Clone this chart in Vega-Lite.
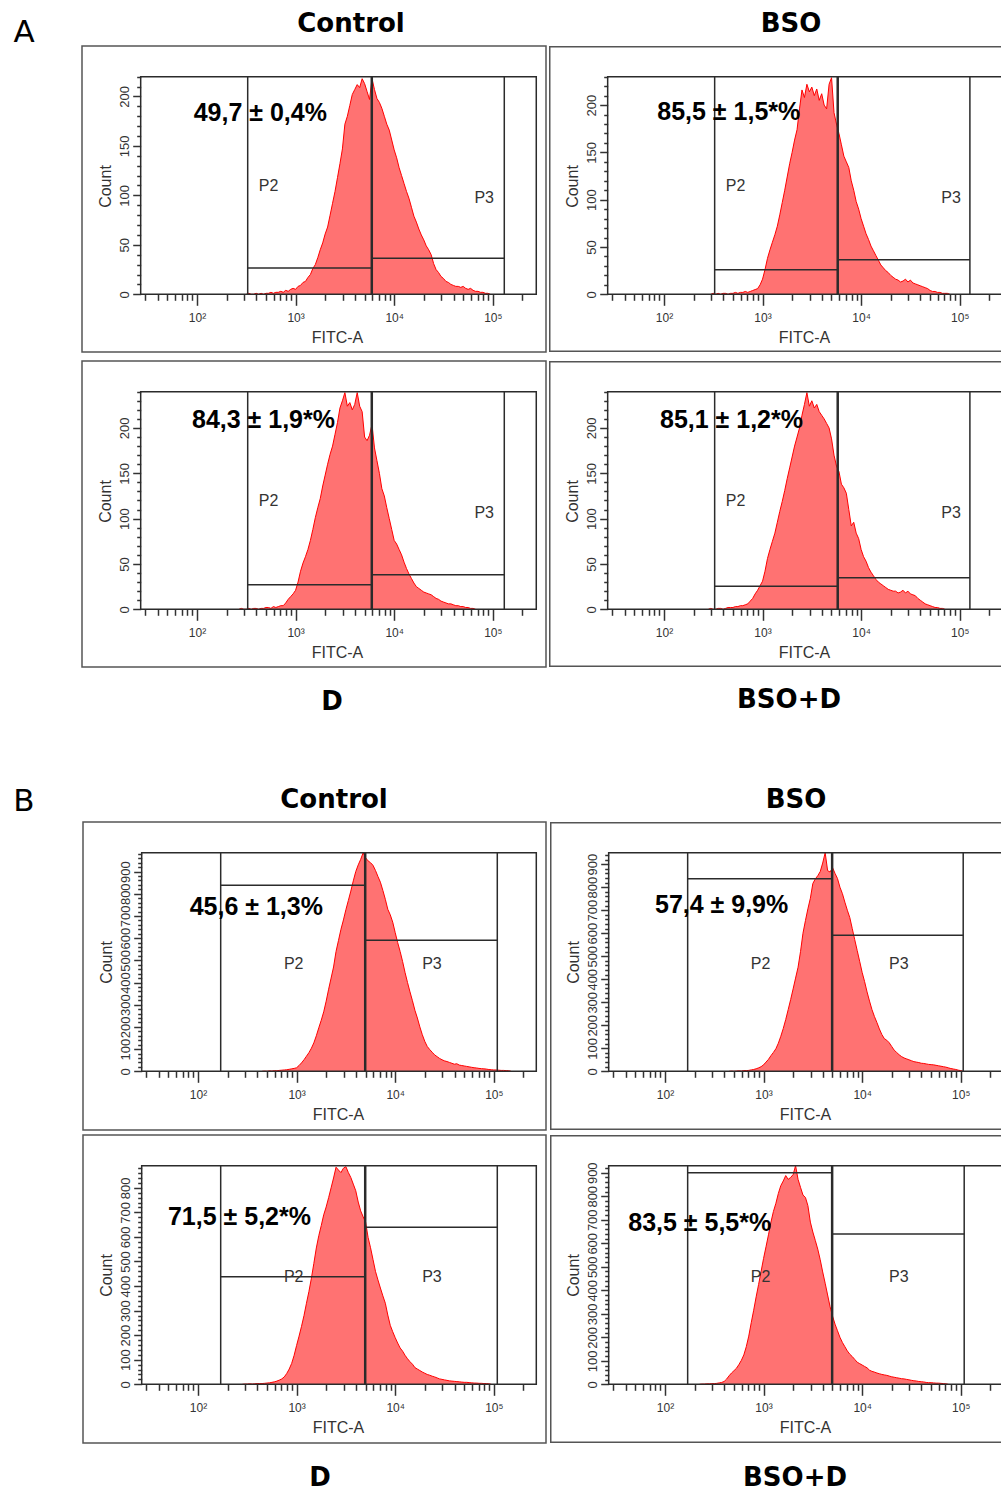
{
"$schema":"https://vega.github.io/schema/vega-lite/v6.json",
"background":"white",
"padding":{"left":0,"top":10,"right":0,"bottom":0},
"config":{
"font":"Liberation Sans",
"view":{"stroke":"#555555","strokeWidth":1.5},
"title":{"font":"DejaVu Sans","fontSize":26,"fontWeight":"bold","color":"#000000","anchor":"middle"},
"axis":{"grid":false,"domain":false,"labelColor":"#333333","tickColor":"#333333","tickWidth":1.5,"titleColor":"#333333","titleFontWeight":"normal","labelOverlap":false,"labelFlush":false,"labelFont":"Liberation Sans","titleFont":"Liberation Sans","titleFontSize":16},
"axisX":{"labelFontSize":12,"labelPadding":7,"titlePadding":6,"labelAngle":0},
"axisY":{"labelFontSize":13,"labelPadding":1,"titlePadding":5,"labelAngle":270,"labelAlign":"center","labelBaseline":"bottom"}
},
"datasets":{
"a1":[{"x":316.2,"y":0},{"x":335.0,"y":1},{"x":354.8,"y":0},{"x":375.8,"y":0},{"x":398.1,"y":1},{"x":421.7,"y":0},{"x":446.7,"y":1},{"x":473.2,"y":0},{"x":501.2,"y":1},{"x":530.9,"y":1},{"x":562.3,"y":2},{"x":595.7,"y":1},{"x":631.0,"y":2},{"x":668.3,"y":2},{"x":707.9,"y":3},{"x":749.9,"y":2},{"x":794.3,"y":4},{"x":841.4,"y":3},{"x":891.3,"y":5},{"x":944.1,"y":6},{"x":1000,"y":5},{"x":1059,"y":8},{"x":1122,"y":9},{"x":1189,"y":12},{"x":1259,"y":13},{"x":1334,"y":17},{"x":1413,"y":20},{"x":1496,"y":26},{"x":1585,"y":30},{"x":1679,"y":37},{"x":1778,"y":45},{"x":1884,"y":52},{"x":1995,"y":61},{"x":2113,"y":68},{"x":2239,"y":80},{"x":2371,"y":92},{"x":2512,"y":104},{"x":2661,"y":118},{"x":2818,"y":132},{"x":2985,"y":147},{"x":3162,"y":172},{"x":3350,"y":180},{"x":3548,"y":191},{"x":3758,"y":202},{"x":3981,"y":207},{"x":4217,"y":212},{"x":4467,"y":209},{"x":4732,"y":218},{"x":5012,"y":213},{"x":5309,"y":205},{"x":5623,"y":197},{"x":5957,"y":218},{"x":6310,"y":207},{"x":6683,"y":198},{"x":7079,"y":194},{"x":7499,"y":188},{"x":7943,"y":180},{"x":8414,"y":172},{"x":8913,"y":166},{"x":9441,"y":156},{"x":10000,"y":146},{"x":10593,"y":138},{"x":11220,"y":128},{"x":11885,"y":120},{"x":12589,"y":112},{"x":13335,"y":104},{"x":14125,"y":97},{"x":14962,"y":88},{"x":15849,"y":79},{"x":16788,"y":73},{"x":17783,"y":66},{"x":18836,"y":60},{"x":19953,"y":55},{"x":21135,"y":49},{"x":22387,"y":45},{"x":23714,"y":40},{"x":25119,"y":31},{"x":26607,"y":25},{"x":28184,"y":22},{"x":29854,"y":18},{"x":31623,"y":16},{"x":33497,"y":13},{"x":35481,"y":12},{"x":37584,"y":10},{"x":39811,"y":9},{"x":42170,"y":8},{"x":44668,"y":8},{"x":47315,"y":7},{"x":50119,"y":8},{"x":53088,"y":6},{"x":56234,"y":5},{"x":59566,"y":6},{"x":63096,"y":4},{"x":66834,"y":3},{"x":70795,"y":3},{"x":74989,"y":2},{"x":79433,"y":2},{"x":84140,"y":1},{"x":89125,"y":1},{"x":94406,"y":0}],
"a2":[{"x":298.5,"y":0},{"x":316.2,"y":1},{"x":335.0,"y":0},{"x":354.8,"y":1},{"x":375.8,"y":0},{"x":398.1,"y":1},{"x":421.7,"y":1},{"x":446.7,"y":0},{"x":473.2,"y":1},{"x":501.2,"y":1},{"x":530.9,"y":2},{"x":562.3,"y":1},{"x":595.7,"y":2},{"x":631.0,"y":2},{"x":668.3,"y":3},{"x":707.9,"y":2},{"x":749.9,"y":3},{"x":794.3,"y":4},{"x":841.4,"y":5},{"x":891.3,"y":6},{"x":944.1,"y":10},{"x":1000,"y":16},{"x":1059,"y":26},{"x":1122,"y":38},{"x":1189,"y":47},{"x":1259,"y":55},{"x":1334,"y":63},{"x":1413,"y":72},{"x":1496,"y":84},{"x":1585,"y":97},{"x":1679,"y":110},{"x":1778,"y":124},{"x":1884,"y":138},{"x":1995,"y":150},{"x":2113,"y":163},{"x":2239,"y":174},{"x":2371,"y":196},{"x":2512,"y":216},{"x":2661,"y":208},{"x":2818,"y":222},{"x":2985,"y":214},{"x":3162,"y":219},{"x":3350,"y":210},{"x":3548,"y":217},{"x":3758,"y":205},{"x":3981,"y":212},{"x":4217,"y":200},{"x":4467,"y":196},{"x":4732,"y":222},{"x":5012,"y":229},{"x":5309,"y":192},{"x":5623,"y":180},{"x":5957,"y":170},{"x":6310,"y":158},{"x":6683,"y":146},{"x":7079,"y":140},{"x":7499,"y":134},{"x":7943,"y":120},{"x":8414,"y":110},{"x":8913,"y":98},{"x":9441,"y":90},{"x":10000,"y":80},{"x":10593,"y":72},{"x":11220,"y":64},{"x":11885,"y":58},{"x":12589,"y":51},{"x":13335,"y":46},{"x":14125,"y":41},{"x":14962,"y":36},{"x":15849,"y":31},{"x":16788,"y":28},{"x":17783,"y":25},{"x":18836,"y":23},{"x":19953,"y":20},{"x":21135,"y":18},{"x":22387,"y":16},{"x":23714,"y":15},{"x":25119,"y":13},{"x":26607,"y":14},{"x":28184,"y":16},{"x":29854,"y":13},{"x":31623,"y":15},{"x":33497,"y":12},{"x":35481,"y":11},{"x":37584,"y":10},{"x":39811,"y":9},{"x":42170,"y":8},{"x":44668,"y":7},{"x":47315,"y":6},{"x":50119,"y":4},{"x":53088,"y":3},{"x":56234,"y":3},{"x":59566,"y":2},{"x":63096,"y":2},{"x":66834,"y":1},{"x":70795,"y":1},{"x":74989,"y":1},{"x":79433,"y":0}],
"a3":[{"x":266.1,"y":0},{"x":281.8,"y":1},{"x":298.5,"y":0},{"x":316.2,"y":0},{"x":335.0,"y":1},{"x":354.8,"y":0},{"x":375.8,"y":1},{"x":398.1,"y":1},{"x":421.7,"y":0},{"x":446.7,"y":1},{"x":473.2,"y":1},{"x":501.2,"y":2},{"x":530.9,"y":2},{"x":562.3,"y":1},{"x":595.7,"y":3},{"x":631.0,"y":2},{"x":668.3,"y":3},{"x":707.9,"y":4},{"x":749.9,"y":4},{"x":794.3,"y":7},{"x":841.4,"y":11},{"x":891.3,"y":14},{"x":944.1,"y":17},{"x":1000,"y":21},{"x":1059,"y":30},{"x":1122,"y":42},{"x":1189,"y":51},{"x":1259,"y":58},{"x":1334,"y":66},{"x":1413,"y":76},{"x":1496,"y":88},{"x":1585,"y":101},{"x":1679,"y":112},{"x":1778,"y":122},{"x":1884,"y":136},{"x":1995,"y":148},{"x":2113,"y":160},{"x":2239,"y":171},{"x":2371,"y":180},{"x":2512,"y":193},{"x":2661,"y":206},{"x":2818,"y":222},{"x":2985,"y":230},{"x":3162,"y":239},{"x":3350,"y":224},{"x":3548,"y":228},{"x":3758,"y":220},{"x":3981,"y":226},{"x":4217,"y":239},{"x":4467,"y":224},{"x":4732,"y":218},{"x":5012,"y":190},{"x":5309,"y":186},{"x":5623,"y":192},{"x":5957,"y":204},{"x":6310,"y":178},{"x":6683,"y":164},{"x":7079,"y":150},{"x":7499,"y":133},{"x":7943,"y":125},{"x":8414,"y":112},{"x":8913,"y":100},{"x":9441,"y":88},{"x":10000,"y":76},{"x":10593,"y":72},{"x":11220,"y":66},{"x":11885,"y":60},{"x":12589,"y":52},{"x":13335,"y":45},{"x":14125,"y":39},{"x":14962,"y":34},{"x":15849,"y":29},{"x":16788,"y":25},{"x":17783,"y":23},{"x":18836,"y":21},{"x":19953,"y":19},{"x":21135,"y":18},{"x":22387,"y":17},{"x":23714,"y":16},{"x":25119,"y":14},{"x":26607,"y":12},{"x":28184,"y":11},{"x":29854,"y":9},{"x":31623,"y":8},{"x":33497,"y":7},{"x":35481,"y":6},{"x":37584,"y":6},{"x":39811,"y":5},{"x":42170,"y":4},{"x":44668,"y":4},{"x":47315,"y":3},{"x":50119,"y":3},{"x":53088,"y":2},{"x":56234,"y":2},{"x":59566,"y":1},{"x":63096,"y":1},{"x":66834,"y":0}],
"a4":[{"x":281.8,"y":0},{"x":298.5,"y":1},{"x":316.2,"y":0},{"x":335.0,"y":0},{"x":354.8,"y":1},{"x":375.8,"y":1},{"x":398.1,"y":0},{"x":421.7,"y":1},{"x":446.7,"y":2},{"x":473.2,"y":2},{"x":501.2,"y":2},{"x":530.9,"y":3},{"x":562.3,"y":3},{"x":595.7,"y":4},{"x":631.0,"y":4},{"x":668.3,"y":5},{"x":707.9,"y":6},{"x":749.9,"y":9},{"x":794.3,"y":12},{"x":841.4,"y":17},{"x":891.3,"y":21},{"x":944.1,"y":26},{"x":1000,"y":31},{"x":1059,"y":42},{"x":1122,"y":56},{"x":1189,"y":66},{"x":1259,"y":75},{"x":1334,"y":84},{"x":1413,"y":96},{"x":1496,"y":108},{"x":1585,"y":119},{"x":1679,"y":131},{"x":1778,"y":144},{"x":1884,"y":156},{"x":1995,"y":168},{"x":2113,"y":180},{"x":2239,"y":190},{"x":2371,"y":200},{"x":2512,"y":214},{"x":2661,"y":226},{"x":2818,"y":239},{"x":2985,"y":224},{"x":3162,"y":230},{"x":3350,"y":222},{"x":3548,"y":226},{"x":3758,"y":218},{"x":3981,"y":214},{"x":4217,"y":210},{"x":4467,"y":205},{"x":4732,"y":200},{"x":5012,"y":188},{"x":5309,"y":170},{"x":5623,"y":158},{"x":5957,"y":152},{"x":6310,"y":138},{"x":6683,"y":134},{"x":7079,"y":128},{"x":7499,"y":110},{"x":7943,"y":92},{"x":8414,"y":96},{"x":8913,"y":84},{"x":9441,"y":78},{"x":10000,"y":66},{"x":10593,"y":58},{"x":11220,"y":53},{"x":11885,"y":46},{"x":12589,"y":41},{"x":13335,"y":37},{"x":14125,"y":33},{"x":14962,"y":30},{"x":15849,"y":28},{"x":16788,"y":26},{"x":17783,"y":24},{"x":18836,"y":22},{"x":19953,"y":21},{"x":21135,"y":20},{"x":22387,"y":20},{"x":23714,"y":18},{"x":25119,"y":19},{"x":26607,"y":21},{"x":28184,"y":18},{"x":29854,"y":20},{"x":31623,"y":17},{"x":33497,"y":16},{"x":35481,"y":15},{"x":37584,"y":12},{"x":39811,"y":10},{"x":42170,"y":8},{"x":44668,"y":6},{"x":47315,"y":5},{"x":50119,"y":4},{"x":53088,"y":3},{"x":56234,"y":2},{"x":59566,"y":2},{"x":63096,"y":1},{"x":66834,"y":1},{"x":70795,"y":0}],
"b1":[{"x":446.7,"y":0},{"x":473.2,"y":1},{"x":501.2,"y":0},{"x":530.9,"y":2},{"x":562.3,"y":1},{"x":595.7,"y":3},{"x":631.0,"y":2},{"x":668.3,"y":4},{"x":707.9,"y":5},{"x":749.9,"y":6},{"x":794.3,"y":7},{"x":841.4,"y":9},{"x":891.3,"y":11},{"x":944.1,"y":13},{"x":1000,"y":16},{"x":1059,"y":26},{"x":1122,"y":38},{"x":1189,"y":52},{"x":1259,"y":68},{"x":1334,"y":84},{"x":1413,"y":104},{"x":1496,"y":128},{"x":1585,"y":160},{"x":1679,"y":196},{"x":1778,"y":230},{"x":1884,"y":268},{"x":1995,"y":316},{"x":2113,"y":370},{"x":2239,"y":420},{"x":2371,"y":470},{"x":2512,"y":540},{"x":2661,"y":590},{"x":2818,"y":640},{"x":2985,"y":682},{"x":3162,"y":728},{"x":3350,"y":770},{"x":3548,"y":812},{"x":3758,"y":858},{"x":3981,"y":900},{"x":4217,"y":930},{"x":4467,"y":955},{"x":4732,"y":985},{"x":5012,"y":962},{"x":5309,"y":948},{"x":5623,"y":940},{"x":5957,"y":928},{"x":6310,"y":905},{"x":6683,"y":878},{"x":7079,"y":852},{"x":7499,"y":815},{"x":7943,"y":775},{"x":8414,"y":730},{"x":8913,"y":705},{"x":9441,"y":672},{"x":10000,"y":625},{"x":10593,"y":580},{"x":11220,"y":540},{"x":11885,"y":495},{"x":12589,"y":445},{"x":13335,"y":400},{"x":14125,"y":358},{"x":14962,"y":318},{"x":15849,"y":275},{"x":16788,"y":240},{"x":17783,"y":200},{"x":18836,"y":165},{"x":19953,"y":135},{"x":21135,"y":112},{"x":22387,"y":98},{"x":23714,"y":86},{"x":25119,"y":74},{"x":26607,"y":66},{"x":28184,"y":58},{"x":29854,"y":52},{"x":31623,"y":47},{"x":33497,"y":44},{"x":35481,"y":40},{"x":37584,"y":36},{"x":39811,"y":32},{"x":42170,"y":34},{"x":44668,"y":28},{"x":47315,"y":26},{"x":50119,"y":24},{"x":53088,"y":22},{"x":56234,"y":20},{"x":59566,"y":18},{"x":63096,"y":16},{"x":66834,"y":15},{"x":70795,"y":13},{"x":74989,"y":12},{"x":79433,"y":11},{"x":84140,"y":10},{"x":89125,"y":8},{"x":94406,"y":7},{"x":100000,"y":6},{"x":105925,"y":6},{"x":112202,"y":5},{"x":118850,"y":4},{"x":125893,"y":4},{"x":133352,"y":3},{"x":141254,"y":3},{"x":149624,"y":0}],
"b2":[{"x":446.7,"y":0},{"x":473.2,"y":1},{"x":501.2,"y":0},{"x":530.9,"y":1},{"x":562.3,"y":2},{"x":595.7,"y":1},{"x":631.0,"y":3},{"x":668.3,"y":3},{"x":707.9,"y":4},{"x":749.9,"y":6},{"x":794.3,"y":8},{"x":841.4,"y":11},{"x":891.3,"y":15},{"x":944.1,"y":20},{"x":1000,"y":28},{"x":1059,"y":40},{"x":1122,"y":52},{"x":1189,"y":68},{"x":1259,"y":82},{"x":1334,"y":98},{"x":1413,"y":122},{"x":1496,"y":152},{"x":1585,"y":186},{"x":1679,"y":225},{"x":1778,"y":268},{"x":1884,"y":312},{"x":1995,"y":358},{"x":2113,"y":405},{"x":2239,"y":452},{"x":2371,"y":520},{"x":2512,"y":600},{"x":2661,"y":655},{"x":2818,"y":706},{"x":2985,"y":752},{"x":3162,"y":816},{"x":3350,"y":836},{"x":3548,"y":850},{"x":3758,"y":868},{"x":3981,"y":905},{"x":4217,"y":950},{"x":4467,"y":872},{"x":4732,"y":866},{"x":5012,"y":885},{"x":5309,"y":860},{"x":5623,"y":838},{"x":5957,"y":800},{"x":6310,"y":772},{"x":6683,"y":735},{"x":7079,"y":700},{"x":7499,"y":668},{"x":7943,"y":620},{"x":8414,"y":572},{"x":8913,"y":525},{"x":9441,"y":478},{"x":10000,"y":430},{"x":10593,"y":390},{"x":11220,"y":345},{"x":11885,"y":305},{"x":12589,"y":268},{"x":13335,"y":238},{"x":14125,"y":212},{"x":14962,"y":184},{"x":15849,"y":160},{"x":16788,"y":142},{"x":17783,"y":135},{"x":18836,"y":124},{"x":19953,"y":108},{"x":21135,"y":92},{"x":22387,"y":82},{"x":23714,"y":72},{"x":25119,"y":64},{"x":26607,"y":58},{"x":28184,"y":54},{"x":29854,"y":50},{"x":31623,"y":46},{"x":33497,"y":42},{"x":35481,"y":40},{"x":37584,"y":38},{"x":39811,"y":35},{"x":42170,"y":34},{"x":44668,"y":32},{"x":47315,"y":30},{"x":50119,"y":29},{"x":53088,"y":28},{"x":56234,"y":26},{"x":59566,"y":24},{"x":63096,"y":22},{"x":66834,"y":20},{"x":70795,"y":18},{"x":74989,"y":15},{"x":79433,"y":12},{"x":84140,"y":10},{"x":89125,"y":8},{"x":94406,"y":5},{"x":100000,"y":3},{"x":105925,"y":0}],
"b3":[{"x":281.8,"y":0},{"x":298.5,"y":1},{"x":316.2,"y":1},{"x":335.0,"y":2},{"x":354.8,"y":1},{"x":375.8,"y":2},{"x":398.1,"y":3},{"x":421.7,"y":3},{"x":446.7,"y":3},{"x":473.2,"y":4},{"x":501.2,"y":5},{"x":530.9,"y":6},{"x":562.3,"y":8},{"x":595.7,"y":10},{"x":631.0,"y":13},{"x":668.3,"y":17},{"x":707.9,"y":22},{"x":749.9,"y":30},{"x":794.3,"y":44},{"x":841.4,"y":62},{"x":891.3,"y":85},{"x":944.1,"y":118},{"x":1000,"y":158},{"x":1059,"y":196},{"x":1122,"y":236},{"x":1189,"y":280},{"x":1259,"y":330},{"x":1334,"y":378},{"x":1413,"y":432},{"x":1496,"y":492},{"x":1585,"y":555},{"x":1679,"y":605},{"x":1778,"y":646},{"x":1884,"y":690},{"x":1995,"y":722},{"x":2113,"y":760},{"x":2239,"y":800},{"x":2371,"y":840},{"x":2512,"y":884},{"x":2661,"y":872},{"x":2818,"y":862},{"x":2985,"y":880},{"x":3162,"y":886},{"x":3350,"y":862},{"x":3548,"y":842},{"x":3758,"y":815},{"x":3981,"y":788},{"x":4217,"y":742},{"x":4467,"y":706},{"x":4732,"y":682},{"x":5012,"y":660},{"x":5309,"y":598},{"x":5623,"y":556},{"x":5957,"y":508},{"x":6310,"y":460},{"x":6683,"y":425},{"x":7079,"y":392},{"x":7499,"y":360},{"x":7943,"y":330},{"x":8414,"y":282},{"x":8913,"y":240},{"x":9441,"y":214},{"x":10000,"y":190},{"x":10593,"y":168},{"x":11220,"y":148},{"x":11885,"y":135},{"x":12589,"y":118},{"x":13335,"y":104},{"x":14125,"y":92},{"x":14962,"y":82},{"x":15849,"y":68},{"x":16788,"y":62},{"x":17783,"y":56},{"x":18836,"y":50},{"x":19953,"y":45},{"x":21135,"y":40},{"x":22387,"y":37},{"x":23714,"y":33},{"x":25119,"y":30},{"x":26607,"y":26},{"x":28184,"y":22},{"x":29854,"y":20},{"x":31623,"y":18},{"x":33497,"y":16},{"x":35481,"y":14},{"x":37584,"y":13},{"x":39811,"y":12},{"x":42170,"y":11},{"x":44668,"y":10},{"x":47315,"y":9},{"x":50119,"y":8},{"x":53088,"y":8},{"x":56234,"y":7},{"x":59566,"y":6},{"x":63096,"y":5},{"x":66834,"y":5},{"x":70795,"y":4},{"x":74989,"y":4},{"x":79433,"y":3},{"x":84140,"y":3},{"x":89125,"y":2},{"x":94406,"y":0}],
"b4":[{"x":223.9,"y":0},{"x":237.1,"y":1},{"x":251.2,"y":1},{"x":266.1,"y":2},{"x":281.8,"y":2},{"x":298.5,"y":3},{"x":316.2,"y":3},{"x":335.0,"y":4},{"x":354.8,"y":6},{"x":375.8,"y":8},{"x":398.1,"y":12},{"x":421.7,"y":22},{"x":446.7,"y":36},{"x":473.2,"y":48},{"x":501.2,"y":58},{"x":530.9,"y":68},{"x":562.3,"y":84},{"x":595.7,"y":102},{"x":631.0,"y":125},{"x":668.3,"y":160},{"x":707.9,"y":205},{"x":749.9,"y":262},{"x":794.3,"y":315},{"x":841.4,"y":372},{"x":891.3,"y":425},{"x":944.1,"y":480},{"x":1000,"y":535},{"x":1059,"y":585},{"x":1122,"y":636},{"x":1189,"y":690},{"x":1259,"y":735},{"x":1334,"y":770},{"x":1413,"y":812},{"x":1496,"y":845},{"x":1585,"y":865},{"x":1679,"y":888},{"x":1778,"y":872},{"x":1884,"y":880},{"x":1995,"y":892},{"x":2113,"y":930},{"x":2239,"y":872},{"x":2371,"y":838},{"x":2512,"y":805},{"x":2661,"y":795},{"x":2818,"y":760},{"x":2985,"y":690},{"x":3162,"y":648},{"x":3350,"y":612},{"x":3548,"y":575},{"x":3758,"y":530},{"x":3981,"y":478},{"x":4217,"y":430},{"x":4467,"y":380},{"x":4732,"y":330},{"x":5012,"y":290},{"x":5309,"y":256},{"x":5623,"y":228},{"x":5957,"y":200},{"x":6310,"y":178},{"x":6683,"y":160},{"x":7079,"y":142},{"x":7499,"y":128},{"x":7943,"y":118},{"x":8414,"y":106},{"x":8913,"y":94},{"x":9441,"y":88},{"x":10000,"y":82},{"x":10593,"y":76},{"x":11220,"y":70},{"x":11885,"y":60},{"x":12589,"y":55},{"x":13335,"y":52},{"x":14125,"y":48},{"x":14962,"y":45},{"x":15849,"y":42},{"x":16788,"y":40},{"x":17783,"y":38},{"x":18836,"y":35},{"x":19953,"y":32},{"x":21135,"y":30},{"x":22387,"y":28},{"x":23714,"y":26},{"x":25119,"y":24},{"x":26607,"y":23},{"x":28184,"y":21},{"x":29854,"y":19},{"x":31623,"y":17},{"x":33497,"y":15},{"x":35481,"y":14},{"x":37584,"y":12},{"x":39811,"y":11},{"x":42170,"y":10},{"x":44668,"y":8},{"x":47315,"y":7},{"x":50119,"y":7},{"x":53088,"y":6},{"x":56234,"y":5},{"x":59566,"y":5},{"x":63096,"y":4},{"x":66834,"y":3},{"x":70795,"y":2},{"x":74989,"y":0}]
},
"spacing":70,
"vconcat":[
{"spacing":33,"hconcat":[
{"width":48,"height":40,"view":{"stroke":null},"data":{"values":[{"t":"A"}]},"mark":{"type":"text","font":"DejaVu Sans","fontSize":31,"color":"#000000","align":"center","baseline":"middle","dy":-33},"encoding":{"text":{"field":"t","type":"nominal"}}},
{"spacing":7,"vconcat":[
{"spacing":2,"hconcat":[
{"width":464,"height":306,"title":{"text":"Control","dx":37,"offset":9},
"encoding":{"x":{"field":"x","type":"quantitative","scale":{"type":"log","domain":[6.82,346500],"nice":false,"zero":false},"axis":{"orient":"bottom","offset":-57.7,"values":[30,40,50,60,70,80,90,100,200,300,400,500,600,700,800,900,1000,2000,3000,4000,5000,6000,7000,8000,9000,10000,20000,30000,40000,50000,60000,70000,80000,90000,100000,200000],"labelExpr":"datum.value == 100 ? '10²' : datum.value == 1000 ? '10³' : datum.value == 10000 ? '10⁴' : datum.value == 100000 ? '10⁵' : ''","tickSize":{"condition":{"test":"datum.value == 100 || datum.value == 1000 || datum.value == 10000 || datum.value == 100000","value":11},"value":6},"title":"FITC-A","titleX":255}},
"y":{"field":"y","type":"quantitative","stack":null,"scale":{"domain":[-58.34,251.04],"nice":false,"zero":false},"axis":{"orient":"left","offset":-58.7,"values":[0,10,20,30,40,50,60,70,80,90,100,110,120,130,140,150,160,170,180,190,200,210,220],"labelExpr":"datum.value % 50 == 0 ? datum.label : ''","tickSize":{"condition":{"test":"datum.value % 50 == 0","value":8},"value":4},"title":"Count","titleY":140}}},
"layer":[
{"data":{"name":"a1"},"mark":{"type":"area","color":"#ff7272","opacity":1,"line":{"color":"#ff0000","strokeWidth":1}}},
{"data":{"values":[{"x":326.8,"x2":326.8,"y":0,"y2":220},{"x":5857,"x2":5857,"y":0,"y2":220},{"x":326.8,"x2":5857,"y":26.6,"y2":26.6},{"x":5996,"x2":5996,"y":0,"y2":220},{"x":130800,"x2":130800,"y":0,"y2":220},{"x":5996,"x2":130800,"y":36.4,"y2":36.4}]},"mark":{"type":"rule","color":"#2b2b2b","strokeWidth":1.5},"encoding":{"x2":{"field":"x2"},"y2":{"field":"y2"}}},
{"data":{"values":[{"x":26.85,"x2":276100,"y":0,"y2":220}]},"mark":{"type":"rect","filled":false,"color":"#2b2b2b","strokeWidth":1.5},"encoding":{"x2":{"field":"x2"},"y2":{"field":"y2"}}},
{"data":{"values":[{"x":533,"y":109.5,"t":"P2"},{"x":81800,"y":97.7,"t":"P3"}]},"mark":{"type":"text","fontSize":16,"color":"#333333"},"encoding":{"text":{"field":"t","type":"nominal"}}},
{"data":{"values":[{"x":92.6,"y":183.6,"t":"49,7 ± 0,4%"}]},"mark":{"type":"text","fontSize":25,"fontWeight":"bold","color":"#000000","align":"left"},"encoding":{"text":{"field":"t","type":"nominal"}}}
]},
{"width":452,"height":306,"view":{"stroke":null},"title":{"text":"BSO","dx":16,"offset":9},
"encoding":{"x":{"field":"x","type":"quantitative","scale":{"type":"log","domain":[6.82,262400],"nice":false,"zero":false},"axis":{"orient":"bottom","offset":-57.7,"values":[30,40,50,60,70,80,90,100,200,300,400,500,600,700,800,900,1000,2000,3000,4000,5000,6000,7000,8000,9000,10000,20000,30000,40000,50000,60000,70000,80000,90000,100000,200000],"labelExpr":"datum.value == 100 ? '10²' : datum.value == 1000 ? '10³' : datum.value == 10000 ? '10⁴' : datum.value == 100000 ? '10⁵' : ''","tickSize":{"condition":{"test":"datum.value == 100 || datum.value == 1000 || datum.value == 10000 || datum.value == 100000","value":11},"value":6},"title":"FITC-A","titleX":255}},
"y":{"field":"y","type":"quantitative","stack":null,"scale":{"domain":[-60.99,262.45],"nice":false,"zero":false},"axis":{"orient":"left","offset":-58.7,"values":[0,10,20,30,40,50,60,70,80,90,100,110,120,130,140,150,160,170,180,190,200,210,220,230],"labelExpr":"datum.value % 50 == 0 ? datum.label : ''","tickSize":{"condition":{"test":"datum.value % 50 == 0","value":8},"value":4},"title":"Count","titleY":140}}},
"layer":[
{"data":{"values":[{"x":6.82,"x2":10000000,"y":-60.99,"y2":262.45}]},"mark":{"type":"rect","filled":false,"clip":true,"color":"#555555","strokeWidth":3},"encoding":{"x2":{"field":"x2"},"y2":{"field":"y2"}}},
{"data":{"name":"a2"},"mark":{"type":"area","color":"#ff7272","opacity":1,"line":{"color":"#ff0000","strokeWidth":1}}},
{"data":{"values":[{"x":326.8,"x2":326.8,"y":0,"y2":230},{"x":5722,"x2":5722,"y":0,"y2":230},{"x":326.8,"x2":5722,"y":26,"y2":26},{"x":5857,"x2":5857,"y":0,"y2":230},{"x":126900,"x2":126900,"y":0,"y2":230},{"x":5857,"x2":126900,"y":36.6,"y2":36.6}]},"mark":{"type":"rule","color":"#2b2b2b","strokeWidth":1.5},"encoding":{"x2":{"field":"x2"},"y2":{"field":"y2"}}},
{"data":{"values":[{"x":26.85,"x2":276100,"y":0,"y2":230}]},"mark":{"type":"rect","filled":false,"clip":true,"color":"#2b2b2b","strokeWidth":1.5},"encoding":{"x2":{"field":"x2"},"y2":{"field":"y2"}}},
{"data":{"values":[{"x":533,"y":114.5,"t":"P2"},{"x":81800,"y":102.1,"t":"P3"}]},"mark":{"type":"text","fontSize":16,"color":"#333333"},"encoding":{"text":{"field":"t","type":"nominal"}}},
{"data":{"values":[{"x":85.5,"y":192.7,"t":"85,5 ± 1,5*%"}]},"mark":{"type":"text","fontSize":25,"fontWeight":"bold","color":"#000000","align":"left"},"encoding":{"text":{"field":"t","type":"nominal"}}}
]}
]},
{"spacing":2,"hconcat":[
{"width":464,"height":306,"title":{"text":"D","orient":"bottom","dx":18,"offset":21.5},
"encoding":{"x":{"field":"x","type":"quantitative","scale":{"type":"log","domain":[6.82,346500],"nice":false,"zero":false},"axis":{"orient":"bottom","offset":-57.7,"values":[30,40,50,60,70,80,90,100,200,300,400,500,600,700,800,900,1000,2000,3000,4000,5000,6000,7000,8000,9000,10000,20000,30000,40000,50000,60000,70000,80000,90000,100000,200000],"labelExpr":"datum.value == 100 ? '10²' : datum.value == 1000 ? '10³' : datum.value == 10000 ? '10⁴' : datum.value == 100000 ? '10⁵' : ''","tickSize":{"condition":{"test":"datum.value == 100 || datum.value == 1000 || datum.value == 10000 || datum.value == 100000","value":11},"value":6},"title":"FITC-A","titleX":255}},
"y":{"field":"y","type":"quantitative","stack":null,"scale":{"domain":[-63.64,273.86],"nice":false,"zero":false},"axis":{"orient":"left","offset":-58.7,"values":[0,10,20,30,40,50,60,70,80,90,100,110,120,130,140,150,160,170,180,190,200,210,220,230,240],"labelExpr":"datum.value % 50 == 0 ? datum.label : ''","tickSize":{"condition":{"test":"datum.value % 50 == 0","value":8},"value":4},"title":"Count","titleY":140}}},
"layer":[
{"data":{"name":"a3"},"mark":{"type":"area","color":"#ff7272","opacity":1,"line":{"color":"#ff0000","strokeWidth":1}}},
{"data":{"values":[{"x":326.8,"x2":326.8,"y":0,"y2":240},{"x":5857,"x2":5857,"y":0,"y2":240},{"x":326.8,"x2":5857,"y":27.1,"y2":27.1},{"x":5996,"x2":5996,"y":0,"y2":240},{"x":130800,"x2":130800,"y":0,"y2":240},{"x":5996,"x2":130800,"y":38.2,"y2":38.2}]},"mark":{"type":"rule","color":"#2b2b2b","strokeWidth":1.5},"encoding":{"x2":{"field":"x2"},"y2":{"field":"y2"}}},
{"data":{"values":[{"x":26.85,"x2":276100,"y":0,"y2":240}]},"mark":{"type":"rect","filled":false,"color":"#2b2b2b","strokeWidth":1.5},"encoding":{"x2":{"field":"x2"},"y2":{"field":"y2"}}},
{"data":{"values":[{"x":533,"y":119.4,"t":"P2"},{"x":81800,"y":106.5,"t":"P3"}]},"mark":{"type":"text","fontSize":16,"color":"#333333"},"encoding":{"text":{"field":"t","type":"nominal"}}},
{"data":{"values":[{"x":89.0,"y":208.5,"t":"84,3 ± 1,9*%"}]},"mark":{"type":"text","fontSize":25,"fontWeight":"bold","color":"#000000","align":"left"},"encoding":{"text":{"field":"t","type":"nominal"}}}
]},
{"width":452,"height":306,"view":{"stroke":null},"title":{"text":"BSO+D","orient":"bottom","dx":14,"offset":20},
"encoding":{"x":{"field":"x","type":"quantitative","scale":{"type":"log","domain":[6.82,262400],"nice":false,"zero":false},"axis":{"orient":"bottom","offset":-57.7,"values":[30,40,50,60,70,80,90,100,200,300,400,500,600,700,800,900,1000,2000,3000,4000,5000,6000,7000,8000,9000,10000,20000,30000,40000,50000,60000,70000,80000,90000,100000,200000],"labelExpr":"datum.value == 100 ? '10²' : datum.value == 1000 ? '10³' : datum.value == 10000 ? '10⁴' : datum.value == 100000 ? '10⁵' : ''","tickSize":{"condition":{"test":"datum.value == 100 || datum.value == 1000 || datum.value == 10000 || datum.value == 100000","value":11},"value":6},"title":"FITC-A","titleX":255}},
"y":{"field":"y","type":"quantitative","stack":null,"scale":{"domain":[-63.64,273.86],"nice":false,"zero":false},"axis":{"orient":"left","offset":-58.7,"values":[0,10,20,30,40,50,60,70,80,90,100,110,120,130,140,150,160,170,180,190,200,210,220,230,240],"labelExpr":"datum.value % 50 == 0 ? datum.label : ''","tickSize":{"condition":{"test":"datum.value % 50 == 0","value":8},"value":4},"title":"Count","titleY":140}}},
"layer":[
{"data":{"values":[{"x":6.82,"x2":10000000,"y":-63.64,"y2":273.86}]},"mark":{"type":"rect","filled":false,"clip":true,"color":"#555555","strokeWidth":3},"encoding":{"x2":{"field":"x2"},"y2":{"field":"y2"}}},
{"data":{"name":"a4"},"mark":{"type":"area","color":"#ff7272","opacity":1,"line":{"color":"#ff0000","strokeWidth":1}}},
{"data":{"values":[{"x":326.8,"x2":326.8,"y":0,"y2":240},{"x":5722,"x2":5722,"y":0,"y2":240},{"x":326.8,"x2":5722,"y":25.4,"y2":25.4},{"x":5857,"x2":5857,"y":0,"y2":240},{"x":126900,"x2":126900,"y":0,"y2":240},{"x":5857,"x2":126900,"y":34.9,"y2":34.9}]},"mark":{"type":"rule","color":"#2b2b2b","strokeWidth":1.5},"encoding":{"x2":{"field":"x2"},"y2":{"field":"y2"}}},
{"data":{"values":[{"x":26.85,"x2":276100,"y":0,"y2":240}]},"mark":{"type":"rect","filled":false,"clip":true,"color":"#2b2b2b","strokeWidth":1.5},"encoding":{"x2":{"field":"x2"},"y2":{"field":"y2"}}},
{"data":{"values":[{"x":533,"y":119.4,"t":"P2"},{"x":81800,"y":106.5,"t":"P3"}]},"mark":{"type":"text","fontSize":16,"color":"#333333"},"encoding":{"text":{"field":"t","type":"nominal"}}},
{"data":{"values":[{"x":91.1,"y":208.5,"t":"85,1 ± 1,2*%"}]},"mark":{"type":"text","fontSize":25,"fontWeight":"bold","color":"#000000","align":"left"},"encoding":{"text":{"field":"t","type":"nominal"}}}
]}
]}
]}
]},
{"spacing":34,"hconcat":[
{"width":48,"height":26,"view":{"stroke":null},"data":{"values":[{"t":"B"}]},"mark":{"type":"text","font":"DejaVu Sans","fontSize":31,"color":"#000000","align":"center","baseline":"middle","dy":-33},"encoding":{"text":{"field":"t","type":"nominal"}}},
{"spacing":3,"vconcat":[
{"spacing":3,"hconcat":[
{"width":463,"height":308,"title":{"text":"Control","dx":19.5,"offset":9},
"encoding":{"x":{"field":"x","type":"quantitative","scale":{"type":"log","domain":[6.82,338400],"nice":false,"zero":false},"axis":{"orient":"bottom","offset":-58.7,"values":[30,40,50,60,70,80,90,100,200,300,400,500,600,700,800,900,1000,2000,3000,4000,5000,6000,7000,8000,9000,10000,20000,30000,40000,50000,60000,70000,80000,90000,100000,200000],"labelExpr":"datum.value == 100 ? '10²' : datum.value == 1000 ? '10³' : datum.value == 10000 ? '10⁴' : datum.value == 100000 ? '10⁵' : ''","tickSize":{"condition":{"test":"datum.value == 100 || datum.value == 1000 || datum.value == 10000 || datum.value == 100000","value":11},"value":6},"title":"FITC-A","titleX":255}},
"y":{"field":"y","type":"quantitative","stack":null,"scale":{"domain":[-264.5,1123.3],"nice":false,"zero":false},"axis":{"orient":"left","offset":-58.7,"values":[0,20,40,60,80,100,120,140,160,180,200,220,240,260,280,300,320,340,360,380,400,420,440,460,480,500,520,540,560,580,600,620,640,660,680,700,720,740,760,780,800,820,840,860,880,900,920,940,960,980],"labelExpr":"datum.value % 100 == 0 ? datum.label : ''","tickSize":{"condition":{"test":"datum.value % 100 == 0","value":8},"value":4},"title":"Count","titleY":140}}},
"layer":[
{"data":{"name":"b1"},"mark":{"type":"area","color":"#ff7272","opacity":1,"line":{"color":"#ff0000","strokeWidth":1}}},
{"data":{"values":[{"x":169.9,"x2":169.9,"y":0,"y2":985},{"x":4907,"x2":4907,"y":0,"y2":985},{"x":169.9,"x2":4907,"y":838,"y2":838},{"x":5022,"x2":5022,"y":0,"y2":985},{"x":108500,"x2":108500,"y":0,"y2":985},{"x":5022,"x2":108500,"y":590,"y2":590}]},"mark":{"type":"rule","color":"#2b2b2b","strokeWidth":1.5},"encoding":{"x2":{"field":"x2"},"y2":{"field":"y2"}}},
{"data":{"values":[{"x":26.85,"x2":269800,"y":0,"y2":985}]},"mark":{"type":"rect","filled":false,"color":"#2b2b2b","strokeWidth":1.5},"encoding":{"x2":{"field":"x2"},"y2":{"field":"y2"}}},
{"data":{"values":[{"x":934,"y":485,"t":"P2"},{"x":23600,"y":485,"t":"P3"}]},"mark":{"type":"text","fontSize":16,"color":"#333333"},"encoding":{"text":{"field":"t","type":"nominal"}}},
{"data":{"values":[{"x":82.4,"y":740,"t":"45,6 ± 1,3%"}]},"mark":{"type":"text","fontSize":25,"fontWeight":"bold","color":"#000000","align":"left"},"encoding":{"text":{"field":"t","type":"nominal"}}}
]},
{"width":451,"height":308,"view":{"stroke":null},"title":{"text":"BSO","dx":20.5,"offset":9},
"encoding":{"x":{"field":"x","type":"quantitative","scale":{"type":"log","domain":[6.82,256300],"nice":false,"zero":false},"axis":{"orient":"bottom","offset":-58.7,"values":[30,40,50,60,70,80,90,100,200,300,400,500,600,700,800,900,1000,2000,3000,4000,5000,6000,7000,8000,9000,10000,20000,30000,40000,50000,60000,70000,80000,90000,100000,200000],"labelExpr":"datum.value == 100 ? '10²' : datum.value == 1000 ? '10³' : datum.value == 10000 ? '10⁴' : datum.value == 100000 ? '10⁵' : ''","tickSize":{"condition":{"test":"datum.value == 100 || datum.value == 1000 || datum.value == 10000 || datum.value == 100000","value":11},"value":6},"title":"FITC-A","titleX":255}},
"y":{"field":"y","type":"quantitative","stack":null,"scale":{"domain":[-255.1,1083.4],"nice":false,"zero":false},"axis":{"orient":"left","offset":-58.7,"values":[0,20,40,60,80,100,120,140,160,180,200,220,240,260,280,300,320,340,360,380,400,420,440,460,480,500,520,540,560,580,600,620,640,660,680,700,720,740,760,780,800,820,840,860,880,900,920,940],"labelExpr":"datum.value % 100 == 0 ? datum.label : ''","tickSize":{"condition":{"test":"datum.value % 100 == 0","value":8},"value":4},"title":"Count","titleY":140}}},
"layer":[
{"data":{"values":[{"x":6.82,"x2":10000000,"y":-255.1,"y2":1083.4}]},"mark":{"type":"rect","filled":false,"clip":true,"color":"#555555","strokeWidth":3},"encoding":{"x2":{"field":"x2"},"y2":{"field":"y2"}}},
{"data":{"name":"b2"},"mark":{"type":"area","color":"#ff7272","opacity":1,"line":{"color":"#ff0000","strokeWidth":1}}},
{"data":{"values":[{"x":169.9,"x2":169.9,"y":0,"y2":950},{"x":4907,"x2":4907,"y":0,"y2":950},{"x":169.9,"x2":4907,"y":837,"y2":837},{"x":5022,"x2":5022,"y":0,"y2":950},{"x":106000,"x2":106000,"y":0,"y2":950},{"x":5022,"x2":106000,"y":591,"y2":591}]},"mark":{"type":"rule","color":"#2b2b2b","strokeWidth":1.5},"encoding":{"x2":{"field":"x2"},"y2":{"field":"y2"}}},
{"data":{"values":[{"x":26.85,"x2":276000,"y":0,"y2":950}]},"mark":{"type":"rect","filled":false,"clip":true,"color":"#2b2b2b","strokeWidth":1.5},"encoding":{"x2":{"field":"x2"},"y2":{"field":"y2"}}},
{"data":{"values":[{"x":934,"y":467.6,"t":"P2"},{"x":23600,"y":467.6,"t":"P3"}]},"mark":{"type":"text","fontSize":16,"color":"#333333"},"encoding":{"text":{"field":"t","type":"nominal"}}},
{"data":{"values":[{"x":79.2,"y":721,"t":"57,4 ± 9,9%"}]},"mark":{"type":"text","fontSize":25,"fontWeight":"bold","color":"#000000","align":"left"},"encoding":{"text":{"field":"t","type":"nominal"}}}
]}
]},
{"spacing":3,"hconcat":[
{"width":463,"height":308,"title":{"text":"D","orient":"bottom","dx":5.5,"offset":21.5},
"encoding":{"x":{"field":"x","type":"quantitative","scale":{"type":"log","domain":[6.82,338400],"nice":false,"zero":false},"axis":{"orient":"bottom","offset":-58.7,"values":[30,40,50,60,70,80,90,100,200,300,400,500,600,700,800,900,1000,2000,3000,4000,5000,6000,7000,8000,9000,10000,20000,30000,40000,50000,60000,70000,80000,90000,100000,200000],"labelExpr":"datum.value == 100 ? '10²' : datum.value == 1000 ? '10³' : datum.value == 10000 ? '10⁴' : datum.value == 100000 ? '10⁵' : ''","tickSize":{"condition":{"test":"datum.value == 100 || datum.value == 1000 || datum.value == 10000 || datum.value == 100000","value":11},"value":6},"title":"FITC-A","titleX":255}},
"y":{"field":"y","type":"quantitative","stack":null,"scale":{"domain":[-239.0,1015.0],"nice":false,"zero":false},"axis":{"orient":"left","offset":-58.7,"values":[0,20,40,60,80,100,120,140,160,180,200,220,240,260,280,300,320,340,360,380,400,420,440,460,480,500,520,540,560,580,600,620,640,660,680,700,720,740,760,780,800,820,840,860,880],"labelExpr":"datum.value % 100 == 0 ? datum.label : ''","tickSize":{"condition":{"test":"datum.value % 100 == 0","value":8},"value":4},"title":"Count","titleY":140}}},
"layer":[
{"data":{"name":"b3"},"mark":{"type":"area","color":"#ff7272","opacity":1,"line":{"color":"#ff0000","strokeWidth":1}}},
{"data":{"values":[{"x":169.9,"x2":169.9,"y":0,"y2":890},{"x":4907,"x2":4907,"y":0,"y2":890},{"x":169.9,"x2":4907,"y":438,"y2":438},{"x":5022,"x2":5022,"y":0,"y2":890},{"x":108500,"x2":108500,"y":0,"y2":890},{"x":5022,"x2":108500,"y":639,"y2":639}]},"mark":{"type":"rule","color":"#2b2b2b","strokeWidth":1.5},"encoding":{"x2":{"field":"x2"},"y2":{"field":"y2"}}},
{"data":{"values":[{"x":26.85,"x2":269800,"y":0,"y2":890}]},"mark":{"type":"rect","filled":false,"color":"#2b2b2b","strokeWidth":1.5},"encoding":{"x2":{"field":"x2"},"y2":{"field":"y2"}}},
{"data":{"values":[{"x":934,"y":438,"t":"P2"},{"x":23600,"y":438,"t":"P3"}]},"mark":{"type":"text","fontSize":16,"color":"#333333"},"encoding":{"text":{"field":"t","type":"nominal"}}},
{"data":{"values":[{"x":49.6,"y":682,"t":"71,5 ± 5,2*%"}]},"mark":{"type":"text","fontSize":25,"fontWeight":"bold","color":"#000000","align":"left"},"encoding":{"text":{"field":"t","type":"nominal"}}}
]},
{"width":451,"height":308,"view":{"stroke":null},"title":{"text":"BSO+D","orient":"bottom","dx":19.5,"offset":21.5},
"encoding":{"x":{"field":"x","type":"quantitative","scale":{"type":"log","domain":[6.82,256300],"nice":false,"zero":false},"axis":{"orient":"bottom","offset":-58.7,"values":[30,40,50,60,70,80,90,100,200,300,400,500,600,700,800,900,1000,2000,3000,4000,5000,6000,7000,8000,9000,10000,20000,30000,40000,50000,60000,70000,80000,90000,100000,200000],"labelExpr":"datum.value == 100 ? '10²' : datum.value == 1000 ? '10³' : datum.value == 10000 ? '10⁴' : datum.value == 100000 ? '10⁵' : ''","tickSize":{"condition":{"test":"datum.value == 100 || datum.value == 1000 || datum.value == 10000 || datum.value == 100000","value":11},"value":6},"title":"FITC-A","titleX":255}},
"y":{"field":"y","type":"quantitative","stack":null,"scale":{"domain":[-249.7,1060.6],"nice":false,"zero":false},"axis":{"orient":"left","offset":-58.7,"values":[0,20,40,60,80,100,120,140,160,180,200,220,240,260,280,300,320,340,360,380,400,420,440,460,480,500,520,540,560,580,600,620,640,660,680,700,720,740,760,780,800,820,840,860,880,900,920],"labelExpr":"datum.value % 100 == 0 ? datum.label : ''","tickSize":{"condition":{"test":"datum.value % 100 == 0","value":8},"value":4},"title":"Count","titleY":140}}},
"layer":[
{"data":{"values":[{"x":6.82,"x2":10000000,"y":-249.7,"y2":1060.6}]},"mark":{"type":"rect","filled":false,"clip":true,"color":"#555555","strokeWidth":3},"encoding":{"x2":{"field":"x2"},"y2":{"field":"y2"}}},
{"data":{"name":"b4"},"mark":{"type":"area","color":"#ff7272","opacity":1,"line":{"color":"#ff0000","strokeWidth":1}}},
{"data":{"values":[{"x":169.9,"x2":169.9,"y":0,"y2":930},{"x":4907,"x2":4907,"y":0,"y2":930},{"x":169.9,"x2":4907,"y":900,"y2":900},{"x":5022,"x2":5022,"y":0,"y2":930},{"x":108500,"x2":108500,"y":0,"y2":930},{"x":5022,"x2":108500,"y":639,"y2":639}]},"mark":{"type":"rule","color":"#2b2b2b","strokeWidth":1.5},"encoding":{"x2":{"field":"x2"},"y2":{"field":"y2"}}},
{"data":{"values":[{"x":26.85,"x2":276000,"y":0,"y2":930}]},"mark":{"type":"rect","filled":false,"clip":true,"color":"#2b2b2b","strokeWidth":1.5},"encoding":{"x2":{"field":"x2"},"y2":{"field":"y2"}}},
{"data":{"values":[{"x":934,"y":457.8,"t":"P2"},{"x":23600,"y":457.8,"t":"P3"}]},"mark":{"type":"text","fontSize":16,"color":"#333333"},"encoding":{"text":{"field":"t","type":"nominal"}}},
{"data":{"values":[{"x":42.4,"y":685,"t":"83,5 ± 5,5*%"}]},"mark":{"type":"text","fontSize":25,"fontWeight":"bold","color":"#000000","align":"left"},"encoding":{"text":{"field":"t","type":"nominal"}}}
]}
]}
]}
]}
]
}
